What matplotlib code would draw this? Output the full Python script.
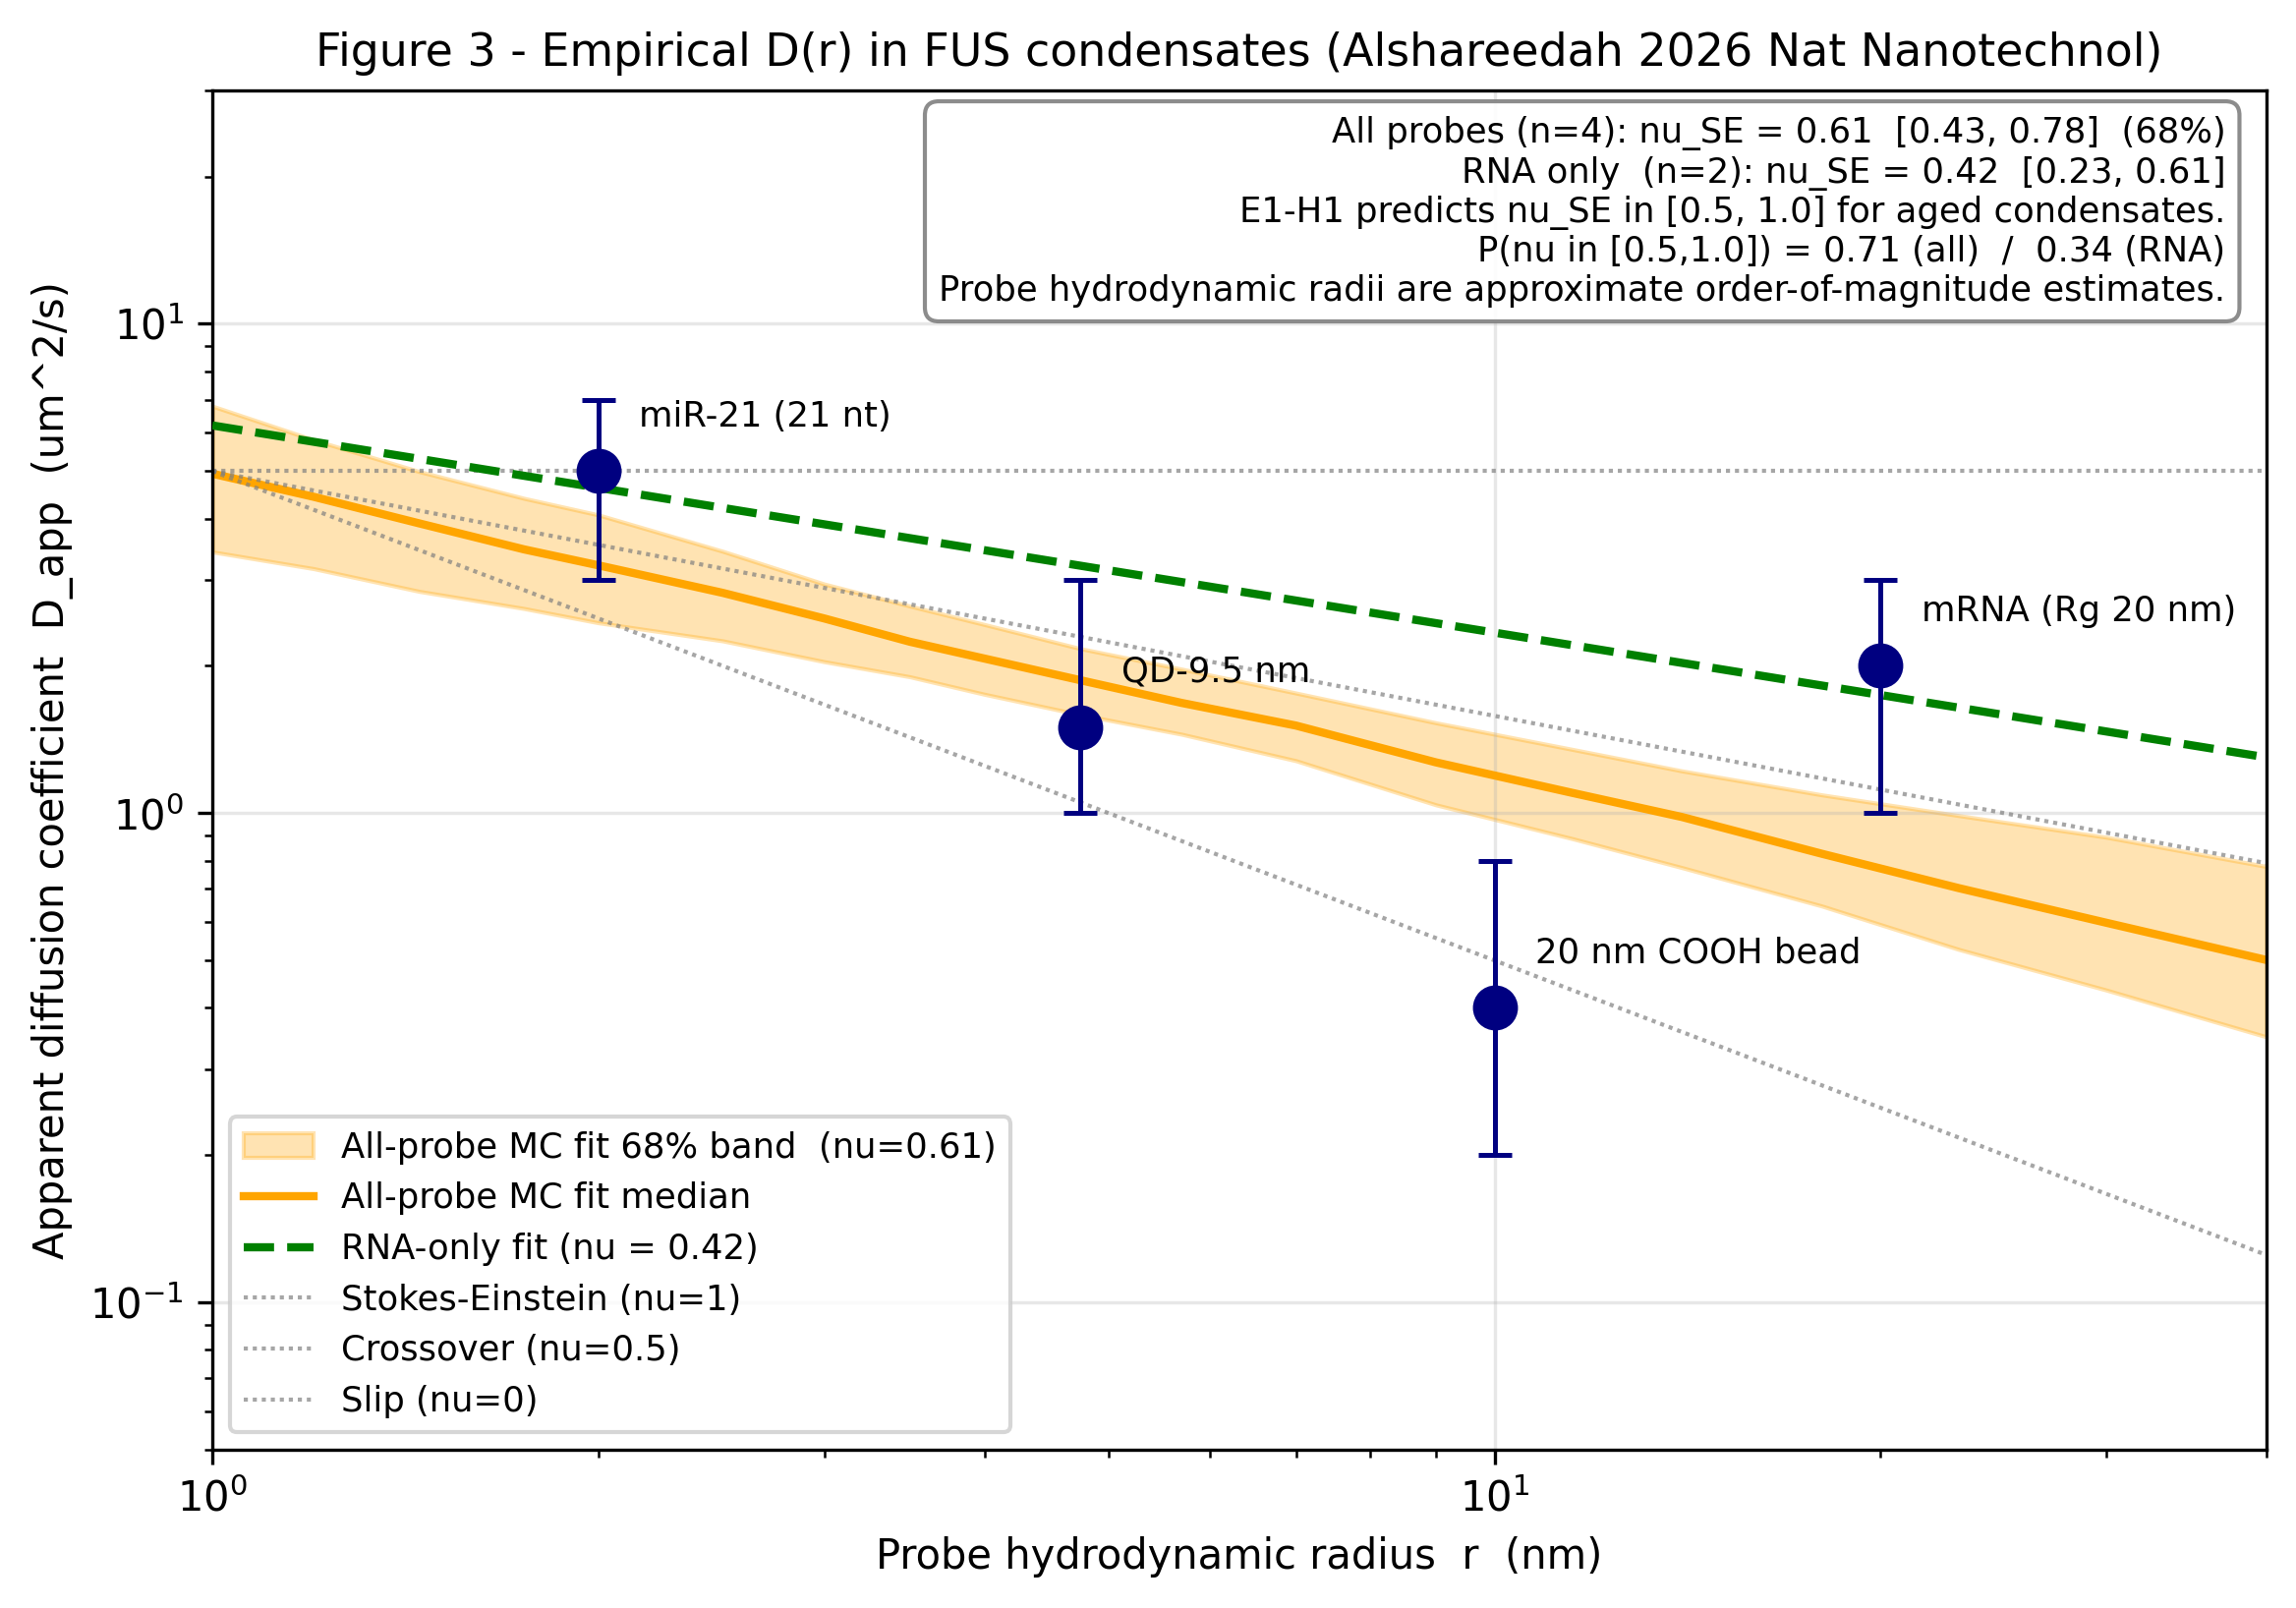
import matplotlib
matplotlib.use("Agg")
import matplotlib.pyplot as plt
import numpy as np

# ---- data ----
probe_names = ["miR-21 (21 nt)", "QD-9.5 nm", "20 nm COOH bead", "mRNA (Rg 20 nm)"]
probe_r = [2.0, 4.75, 10.0, 20.0]
probe_D = [5.0, 1.5, 0.4, 2.0]
probe_D_lo = [3.0, 1.0, 0.2, 1.0]
probe_D_hi = [7.0, 3.0, 0.8, 3.0]

# MC fit (all probes): median and 68% band, read at sampled radii
band_r = [1.0, 1.2, 1.45, 1.75, 2.0, 2.5, 3.0, 3.5, 4.0, 4.75, 5.7, 7.0, 9.0,
          11.5, 14.0, 18.0, 23.0, 30.0, 40.0]
band_upper = [6.79, 5.79, 4.99, 4.40, 4.07, 3.43, 2.94, 2.65, 2.43, 2.17, 1.97,
              1.76, 1.53, 1.35, 1.22, 1.09, 0.989, 0.893, 0.778]
band_lower = [3.42, 3.16, 2.84, 2.62, 2.45, 2.25, 2.04, 1.90, 1.75, 1.59, 1.45,
              1.28, 1.04, 0.887, 0.774, 0.646, 0.527, 0.435, 0.349]
band_median = [4.94, 4.43, 3.91, 3.46, 3.21, 2.82, 2.50, 2.24, 2.07, 1.87, 1.68,
               1.51, 1.27, 1.10, 0.982, 0.826, 0.703, 0.597, 0.501]

# RNA-only fit and reference scaling lines (end points)
line_r = [1.0, 40.0]
rna_fit_D = [6.2, 1.30]
se_D = [5.0, 0.125]
crossover_D = [5.0, 0.79]
slip_D = [5.0, 5.0]

title = "Figure 3 - Empirical D(r) in FUS condensates (Alshareedah 2026 Nat Nanotechnol)"
xlabel = "Probe hydrodynamic radius  r  (nm)"
ylabel = "Apparent diffusion coefficient  D_app  (um^2/s)"
info_lines = [
    "All probes (n=4): nu_SE = 0.61  [0.43, 0.78]  (68%)",
    "RNA only  (n=2): nu_SE = 0.42  [0.23, 0.61]",
    "E1-H1 predicts nu_SE in [0.5, 1.0] for aged condensates.",
    "P(nu in [0.5,1.0]) = 0.71 (all)  /  0.34 (RNA)",
    "Probe hydrodynamic radii are approximate order-of-magnitude estimates.",
]

# ---- plot ----
fig = plt.figure(figsize=(2336 / 300, 1636 / 300), dpi=300)
ax = fig.add_axes([0.0925, 0.0984, 0.9872 - 0.0925, 0.9438 - 0.0984])

ax.fill_between(band_r, band_lower, band_upper, color="orange", alpha=0.3,
                label="All-probe MC fit 68% band  (nu=0.61)", zorder=1)
ax.plot(band_r, band_median, color="orange", lw=2,
        label="All-probe MC fit median", zorder=2)
ax.plot(line_r, rna_fit_D, color="green", lw=2, ls="--",
        label="RNA-only fit (nu = 0.42)", zorder=3)
dot = (0, (1, 1.2))
ax.plot(line_r, se_D, color="gray", lw=1.0, ls=dot, alpha=0.7,
        label="Stokes-Einstein (nu=1)", zorder=2)
ax.plot(line_r, crossover_D, color="gray", lw=1.0, ls=dot, alpha=0.7,
        label="Crossover (nu=0.5)", zorder=2)
ax.plot(line_r, slip_D, color="gray", lw=1.0, ls=dot, alpha=0.7,
        label="Slip (nu=0)", zorder=2)

yerr = [np.array(probe_D) - np.array(probe_D_lo), np.array(probe_D_hi) - np.array(probe_D)]
ax.errorbar(probe_r, probe_D, yerr=yerr, fmt="o", color="navy", ms=10,
            elinewidth=1.2, capsize=4, capthick=1.2, zorder=5)
for name, r, d in zip(probe_names, probe_r, probe_D):
    ax.annotate(name, (r, d), xytext=(10, 11), textcoords="offset points", fontsize=8.5)

ax.set_xscale("log")
ax.set_yscale("log")
ax.set_xlim(1, 40)
ax.set_ylim(0.05, 30)
ax.grid(True, which="major", alpha=0.3)
ax.set_xlabel(xlabel, fontsize=10)
ax.set_ylabel(ylabel, fontsize=10)
ax.set_title(title, fontsize=11)

ax.text(0.98, 0.981, "\n".join(info_lines), transform=ax.transAxes, ha="right", va="top",
        fontsize=8.5, bbox=dict(boxstyle="round,pad=0.4", facecolor="white",
                                edgecolor="gray", alpha=0.9))

ax.legend(loc="lower left", fontsize=8.5)

fig.savefig("out.png", dpi=300)
